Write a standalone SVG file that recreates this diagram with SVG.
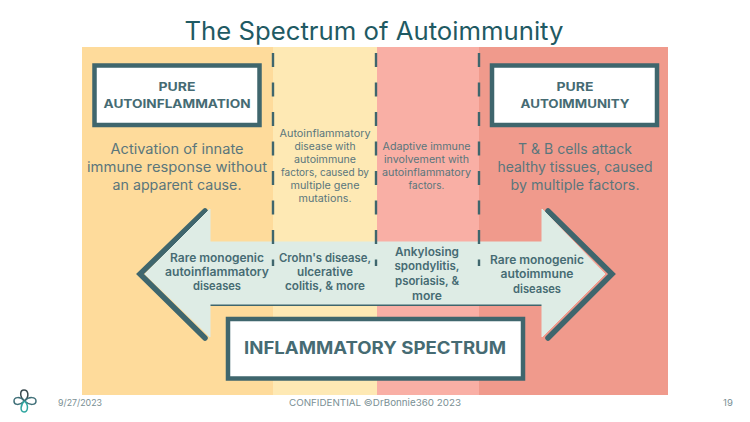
<svg xmlns="http://www.w3.org/2000/svg" width="750" height="422" viewBox="0 0 750 422">
<style>
text{font-family:"Inter","Open Sans","Liberation Sans",sans-serif;text-anchor:middle;fill:#4a6b74}
.b{font-weight:600;font-size:11.5px;fill:#466b73}
.d{font-size:14px;fill:#5a767c}
.s{font-size:10px;fill:#5a767c}
.f{font-size:9.5px;fill:#7a8f94}
.box{fill:#fff;stroke:#3f666d;stroke-width:4.5}
.dash{stroke:#3f666d;stroke-width:2.4;stroke-dasharray:14 15.5;fill:none}
</style>
<rect width="750" height="422" fill="#fff"/>
<text id="title" x="374" y="40" style="font-size:25px;font-weight:400;fill:#1f5a63" textLength="379" lengthAdjust="spacingAndGlyphs">The Spectrum of Autoimmunity</text>
<g id="bands">
<rect x="82" y="47" width="191" height="348" fill="#fedb9b"/>
<rect x="273" y="47" width="104" height="348" fill="#fee9b4"/>
<rect x="377" y="47" width="102" height="348" fill="#f9afa5"/>
<rect x="479" y="47" width="189" height="348" fill="#f09a8c"/>
</g>
<g id="arrow">
<path d="M205 211L140 274L205 338" fill="none" stroke="#3f666d" stroke-width="5.5" stroke-linecap="round"/>
<path d="M548 211L612 274L548 338" fill="none" stroke="#3f666d" stroke-width="5.5" stroke-linecap="round"/>
<rect x="210" y="302" width="332" height="4" fill="#3f666d"/>
<path d="M210 209L145 274L210 337V304H542V337L605 274L542 209V242H210Z" fill="#deece5" stroke="#deece5" stroke-width="1" stroke-linejoin="round"/>
</g>
<g id="connectors">
<path class="dash" d="M273 53V266"/>
<path class="dash" d="M376 53V266"/>
<path class="dash" d="M479 53V266"/>
</g>
<g id="node-pure-autoinflammation">
<rect class="box" x="94.500" y="65.500" width="165" height="59.500"/>
<text class="b" x="177" y="91" style="font-weight:700" textLength="37" lengthAdjust="spacingAndGlyphs">PURE</text>
<text class="b" x="177" y="107.500" style="font-weight:700" textLength="147" lengthAdjust="spacingAndGlyphs">AUTOINFLAMMATION</text>
</g>
<g id="node-pure-autoimmunity">
<rect class="box" x="492" y="65.500" width="165" height="59.500"/>
<text class="b" x="575" y="91" style="font-weight:700" textLength="37" lengthAdjust="spacingAndGlyphs">PURE</text>
<text class="b" x="575" y="107.500" style="font-weight:700" textLength="109" lengthAdjust="spacingAndGlyphs">AUTOIMMUNITY</text>
</g>
<g id="desc-left">
<text class="d" x="177" y="154" textLength="133" lengthAdjust="spacingAndGlyphs">Activation of innate</text>
<text class="d" x="177" y="172" textLength="180" lengthAdjust="spacingAndGlyphs">immune response without</text>
<text class="d" x="177" y="190" textLength="129" lengthAdjust="spacingAndGlyphs">an apparent cause.</text>
</g>
<g id="desc-right">
<text class="d" x="575" y="154" textLength="114" lengthAdjust="spacingAndGlyphs">T &amp; B cells attack</text>
<text class="d" x="575" y="172" textLength="155" lengthAdjust="spacingAndGlyphs">healthy tissues, caused</text>
<text class="d" x="575" y="190" textLength="129" lengthAdjust="spacingAndGlyphs">by multiple factors.</text>
</g>
<g id="desc-mid-left">
<text class="s" x="325" y="137" textLength="91" lengthAdjust="spacingAndGlyphs">Autoinflammatory</text>
<text class="s" x="325" y="150" textLength="61" lengthAdjust="spacingAndGlyphs">disease with</text>
<text class="s" x="325" y="163" textLength="62" lengthAdjust="spacingAndGlyphs">autoimmune</text>
<text class="s" x="325" y="176" textLength="88" lengthAdjust="spacingAndGlyphs">factors, caused by</text>
<text class="s" x="325" y="188.500" textLength="69" lengthAdjust="spacingAndGlyphs">multiple gene</text>
<text class="s" x="325" y="201.500" textLength="53" lengthAdjust="spacingAndGlyphs">mutations.</text>
</g>
<g id="desc-mid-right">
<text class="s" x="426.500" y="150" textLength="88" lengthAdjust="spacingAndGlyphs">Adaptive immune</text>
<text class="s" x="426.500" y="163" textLength="85" lengthAdjust="spacingAndGlyphs">involvement with</text>
<text class="s" x="426.500" y="176" textLength="89" lengthAdjust="spacingAndGlyphs">autoinflammatory</text>
<text class="s" x="426.500" y="188.500" textLength="36" lengthAdjust="spacingAndGlyphs">factors.</text>
</g>
<g id="label-rare-autoinflammatory">
<text class="b" x="217" y="262" textLength="94" lengthAdjust="spacingAndGlyphs">Rare monogenic</text>
<text class="b" x="217" y="276" textLength="104" lengthAdjust="spacingAndGlyphs">autoinflammatory</text>
<text class="b" x="217" y="290" textLength="48" lengthAdjust="spacingAndGlyphs">diseases</text>
</g>
<g id="label-crohns">
<text class="b" x="325" y="262" textLength="92" lengthAdjust="spacingAndGlyphs">Crohn's disease,</text>
<text class="b" x="325" y="276" textLength="56" lengthAdjust="spacingAndGlyphs">ulcerative</text>
<text class="b" x="325" y="290" textLength="80" lengthAdjust="spacingAndGlyphs">colitis, &amp; more</text>
</g>
<g id="label-ankylosing">
<text class="b" x="427" y="256" textLength="64" lengthAdjust="spacingAndGlyphs">Ankylosing</text>
<text class="b" x="427" y="270" textLength="65" lengthAdjust="spacingAndGlyphs">spondylitis,</text>
<text class="b" x="427" y="285" textLength="64" lengthAdjust="spacingAndGlyphs">psoriasis, &amp;</text>
<text class="b" x="427" y="300" textLength="30" lengthAdjust="spacingAndGlyphs">more</text>
</g>
<g id="label-rare-autoimmune">
<text class="b" x="537" y="264" textLength="94" lengthAdjust="spacingAndGlyphs">Rare monogenic</text>
<text class="b" x="537" y="278" textLength="73" lengthAdjust="spacingAndGlyphs">autoimmune</text>
<text class="b" x="537" y="293" textLength="48" lengthAdjust="spacingAndGlyphs">diseases</text>
</g>
<g id="node-inflammatory-spectrum">
<rect class="box" x="228" y="319" width="295" height="59.500"/>
<text class="b" x="375" y="354" style="font-size:17px;font-weight:700" textLength="262" lengthAdjust="spacingAndGlyphs">INFLAMMATORY SPECTRUM</text>
</g>
<g id="logo" fill="none" stroke-width="1.500">
<path d="M24.500 401C19 396 20 390 24 390S30 396 24.500 401" stroke="#3a4a4f"/>
<path d="M24.500 401C20 396 14 397 14 401S19 406 24.500 401" stroke="#3f6f78"/>
<path d="M24.500 401C29 396 36 397 36 401S30 406 24.500 401" stroke="#3f6f78"/>
<path d="M24.500 401C20 405 20 412 24 412S29 405 24.500 401" stroke="#2fa6a0"/>
</g>
<g id="footer">
<text class="f" x="80" y="406" textLength="44" lengthAdjust="spacingAndGlyphs">9/27/2023</text>
<text class="f" x="375" y="406" textLength="172" lengthAdjust="spacingAndGlyphs">CONFIDENTIAL ©DrBonnie360 2023</text>
<text class="f" x="728" y="406">19</text>
</g>
</svg>
